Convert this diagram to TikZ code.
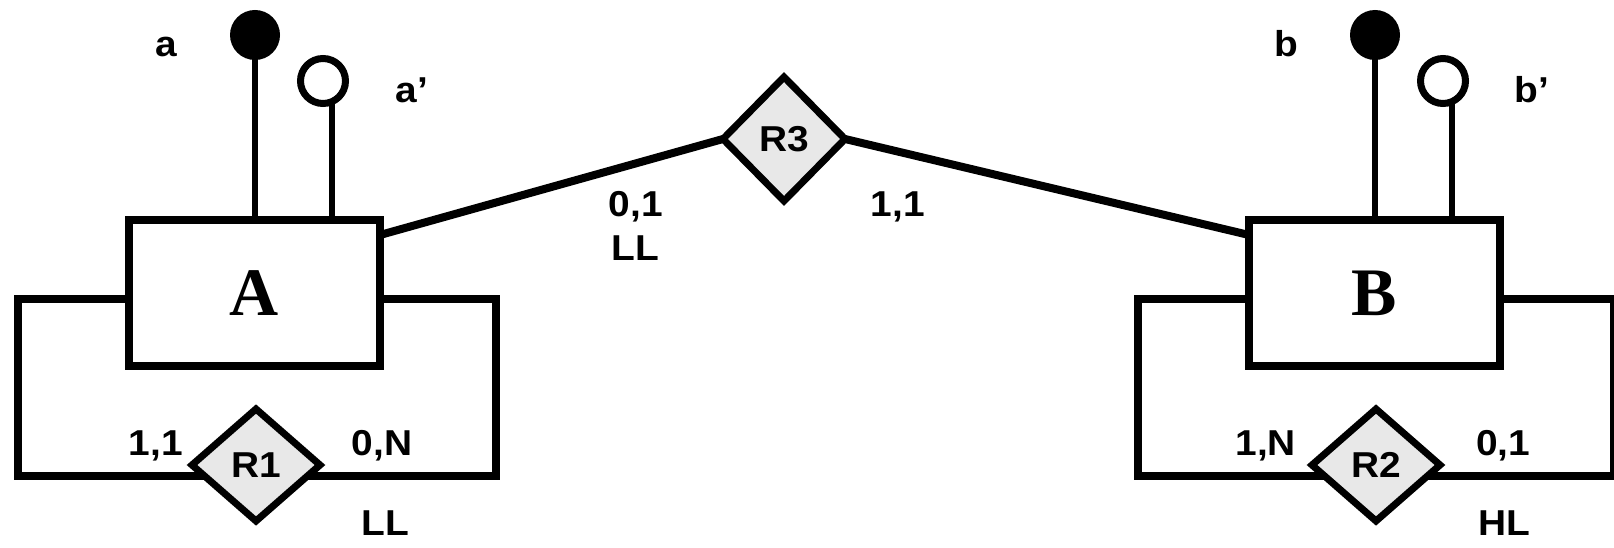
\documentclass[tikz,border=0pt]{standalone}
\usepackage{fontspec}
\setmainfont{Liberation Serif}
\newfontfamily\labfont[FakeStretch=1.08]{Liberation Sans}
\usetikzlibrary{shapes.geometric,backgrounds}
\definecolor{relgray}{RGB}{232,232,232}
\begin{document}
\begin{tikzpicture}[x=1pt,y=-1pt,
  every node/.style={inner sep=0pt, outer sep=0pt},
  ent/.style={draw, line width=8pt, fill=white, minimum width=251pt, minimum height=146pt, font=\fontsize{68}{74}\selectfont\bfseries},
  rel/.style={draw, diamond, line width=7pt, fill=relgray, minimum width=128pt, minimum height=112pt, font=\labfont\fontsize{36}{40}\selectfont\bfseries},
  lab/.style={font=\labfont\fontsize{36}{40}\selectfont\bfseries},
  idf/.style={circle, fill=black, minimum size=50pt},
  ido/.style={circle, draw, line width=7pt, fill=white, minimum size=45pt},
  conn/.style={line width=8pt},
  stem/.style={line width=6.5pt}]
\useasboundingbox (0,0) rectangle (1614,548);
% entities
\node[ent] (A) at (254.5,293) {A};
\node[ent] (B) at (1374.5,293) {B};
% relationships
\node[rel] (R1) at (256,465) {R1};
\node[rel] (R2) at (1376,465) {R2};
\node[rel, minimum width=122pt, minimum height=124pt] (R3) at (784,139) {R3};
% identifiers
\node[idf] (a) at (255,35) {};
\node[ido] (ap) at (323,81) {};
\node[idf] (b) at (1375,35) {};
\node[ido] (bp) at (1443,81) {};
% labels
\node[lab, anchor=base] (la) at (166,57) {a};
\node[lab, anchor=base] (lap) at (412,103) {a’};
\node[lab, anchor=base] (lb) at (1286,57) {b};
\node[lab, anchor=base] (lbp) at (1532,103) {b’};
\node[lab, anchor=base] (c11) at (156,455) {1,1};
\node[lab, anchor=base] (c0N) at (382,455) {0,N};
\node[lab, anchor=base] (lLL1) at (385,535) {LL};
\node[lab, anchor=base] (c01a) at (636,217) {0,1};
\node[lab, anchor=base] (lLL3) at (635,260) {LL};
\node[lab, anchor=base] (c11b) at (898,217) {1,1};
\node[lab, anchor=base east] (c1N) at (1296,455) {1,N};
\node[lab, anchor=base west] (c01b) at (1476,455) {0,1};
\node[lab, anchor=base west] (lHL) at (1478,535) {HL};
% loop corners
\coordinate (LAtl) at (18,299);
\coordinate (LAbr) at (496,476);
\coordinate (LBtl) at (1138,299);
\coordinate (LBbr) at (1614,476);
\begin{scope}[on background layer]
\draw[conn] ([yshift=-15pt]A.north east) -- (R3.west);
\draw[conn] (R3.east) -- ([yshift=-15pt]B.north west);
\draw[stem] (a.center) -- (a.center |- A.north);
\draw[stem] ([xshift=9pt]ap.center) -- ([xshift=9pt]ap.center |- A.north);
\draw[stem] (b.center) -- (b.center |- B.north);
\draw[stem] ([xshift=9pt]bp.center) -- ([xshift=9pt]bp.center |- B.north);
\draw[conn] (A.west |- LAtl) -- (LAtl) -- (LAtl |- LAbr) -- (R1.center |- LAbr);
\draw[conn] (A.east |- LAtl) -- (LAbr |- LAtl) -- (LAbr) -- (R1.center |- LAbr);
\draw[conn] (B.west |- LBtl) -- (LBtl) -- (LBtl |- LBbr) -- (R2.center |- LBbr);
\draw[conn] (B.east |- LBtl) -- (LBbr |- LBtl) -- (LBbr) -- (R2.center |- LBbr);
\end{scope}
\end{tikzpicture}
\end{document}
